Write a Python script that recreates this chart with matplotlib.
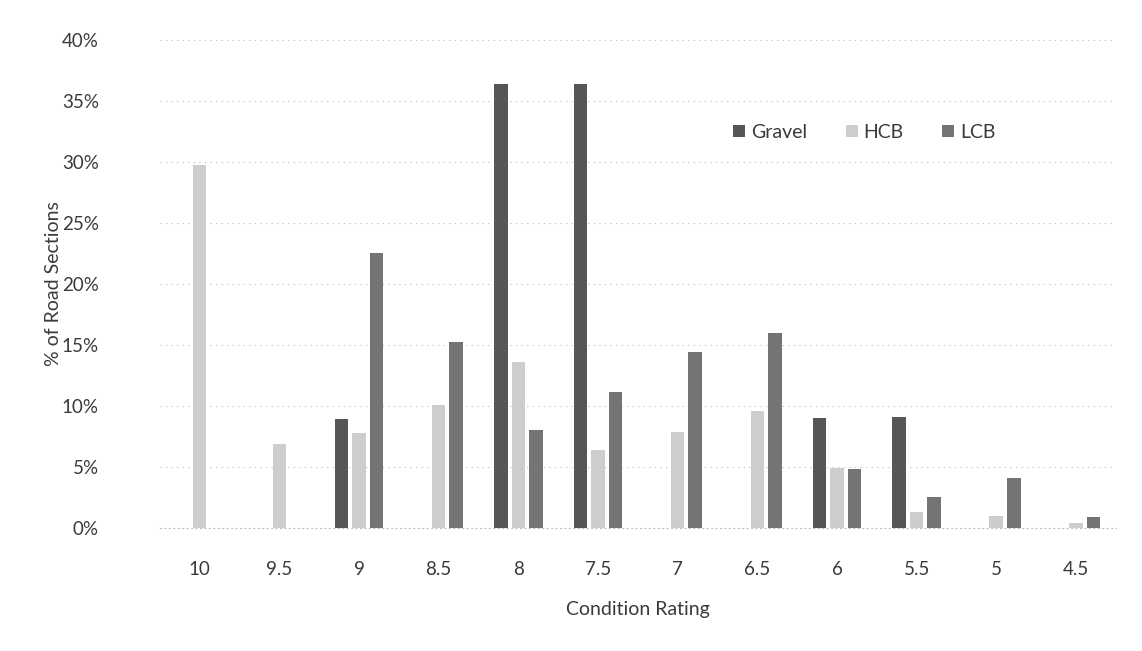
import matplotlib

matplotlib.use("Agg")
import matplotlib.pyplot as plt
import numpy as np
from matplotlib.ticker import PercentFormatter

ratings = ["10", "9.5", "9", "8.5", "8", "7.5", "7", "6.5", "6", "5.5", "5", "4.5"]
gravel = [0.0, 0.0, 8.9, 0.0, 36.4, 36.4, 0.0, 0.0, 9.0, 9.1, 0.0, 0.0]
hcb = [29.7, 6.9, 7.8, 10.1, 13.6, 6.4, 7.9, 9.6, 4.9, 1.3, 1.0, 0.4]
lcb = [0.0, 0.0, 22.5, 15.2, 8.0, 11.1, 14.4, 16.0, 4.8, 2.5, 4.1, 0.9]

plt.rcParams["font.family"] = ["Lato", "DejaVu Sans"]

fig = plt.figure(figsize=(11.42, 6.51), dpi=100)
ax = fig.add_axes([0.140, 0.189, 0.837, 0.750])

x = np.arange(len(ratings))
w = 0.17
off = 0.22
ax.bar(x - off, gravel, w, color="#565656", label="Gravel")
ax.bar(x, hcb, w, color="#cdcdcd", label="HCB")
ax.bar(x + off, lcb, w, color="#747474", label="LCB")

ax.set_xlim(-0.5, len(ratings) - 0.5)
ax.set_ylim(0, 40)
ax.set_yticks(np.arange(0, 41, 5))
ax.yaxis.set_major_formatter(PercentFormatter(decimals=0))
ax.set_xticks(x)
ax.set_xticklabels(ratings)
ax.grid(axis="y", linestyle=(0, (1, 4)), color="#b8b8b8", linewidth=0.8)
ax.set_axisbelow(True)
for side in ["top", "right", "left"]:
    ax.spines[side].set_visible(False)
ax.spines["bottom"].set_color("#c0c0c0")
ax.spines["bottom"].set_linestyle((0, (1, 3)))
ax.tick_params(axis="both", length=0, labelsize=13.5, colors="#3a3a3a")
ax.tick_params(axis="x", pad=24)
ax.tick_params(axis="y", pad=44)

ax.set_xlabel("Condition Rating", fontsize=14, color="#3a3a3a", labelpad=16)
ax.set_ylabel("% of Road Sections", fontsize=14, color="#3a3a3a", labelpad=0)

ax.legend(loc="center", bbox_to_anchor=(0.737, 0.81), ncol=3, frameon=False,
          fontsize=14, handlelength=0.6, handleheight=0.6, handletextpad=0.3,
          columnspacing=2.0, labelcolor="#3a3a3a")

fig.savefig("out.png")
